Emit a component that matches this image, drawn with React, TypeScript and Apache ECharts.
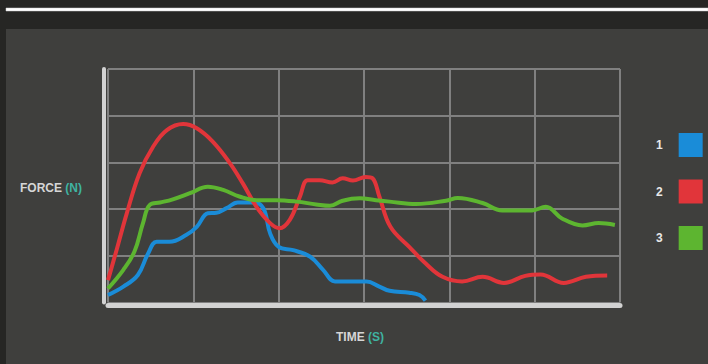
import React, { useEffect, useRef } from "react";
import * as echarts from "echarts";

const seriesNames = ["1", "2", "3"];
const seriesColors = ["#1a8cd8", "#e1353a", "#5db530"];

const blueTime = [0, 0.18, 0.35, 0.47, 0.57, 0.72, 0.92, 1.04, 1.17, 1.27, 1.39, 1.52, 1.7, 1.82, 1.9, 2.0, 2.17, 2.37, 2.52, 2.66, 2.84, 3.03, 3.18, 3.3, 3.53, 3.65, 3.72];
const blueForce = [0.16, 0.34, 0.59, 1.05, 1.3, 1.3, 1.45, 1.62, 1.91, 1.92, 2.02, 2.14, 2.14, 2.02, 1.48, 1.19, 1.12, 0.98, 0.7, 0.45, 0.45, 0.45, 0.34, 0.25, 0.21, 0.16, 0.04];

const redTime = [0, 0.1, 0.22, 0.37, 0.53, 0.69, 0.88, 1.04, 1.23, 1.43, 1.58, 1.74, 1.9, 2.01, 2.13, 2.25, 2.34, 2.48, 2.63, 2.75, 2.87, 3.02, 3.1, 3.18, 3.31, 3.53, 3.72, 3.92, 4.15, 4.39, 4.64, 4.89, 5.07, 5.34, 5.6, 5.85];
const redForce = [0.48, 1.12, 1.91, 2.77, 3.34, 3.69, 3.82, 3.73, 3.44, 2.98, 2.55, 2.05, 1.7, 1.59, 1.77, 2.27, 2.62, 2.62, 2.57, 2.66, 2.61, 2.69, 2.66, 2.27, 1.62, 1.19, 0.84, 0.55, 0.45, 0.55, 0.42, 0.57, 0.6, 0.42, 0.55, 0.58];

const greenTime = [0, 0.18, 0.31, 0.41, 0.49, 0.61, 0.76, 0.96, 1.17, 1.35, 1.54, 1.74, 1.97, 2.21, 2.44, 2.6, 2.75, 2.95, 3.14, 3.3, 3.61, 3.96, 4.1, 4.39, 4.62, 4.97, 5.13, 5.32, 5.56, 5.75, 5.94];
const greenForce = [0.3, 0.7, 1.09, 1.7, 2.09, 2.14, 2.21, 2.34, 2.48, 2.41, 2.27, 2.19, 2.19, 2.16, 2.1, 2.07, 2.18, 2.23, 2.19, 2.16, 2.11, 2.18, 2.24, 2.13, 1.97, 1.97, 2.05, 1.8, 1.65, 1.7, 1.66];

const seriesTimes = [blueTime, redTime, greenTime];
const seriesForces = [blueForce, redForce, greenForce];

export default function App() {
  const ref = useRef<HTMLDivElement>(null);
  useEffect(() => {
    document.body.style.margin = "0";
    const chart = echarts.init(ref.current!, null, { renderer: "svg" });
    const font = "'Liberation Sans', Arial, sans-serif";
    const labelRich = {
      a: { fill: "#d6d6d6", fontSize: 12, fontWeight: "bold", fontFamily: font },
      b: { fill: "#3fb3a1", fontSize: 12, fontWeight: "bold", fontFamily: font },
    };
    chart.setOption({
      animation: false,
      backgroundColor: "#262624",
      graphic: [
        { type: "rect", shape: { x: 6, y: 8, width: 702, height: 3 }, style: { fill: "#ffffff", stroke: "#cfcfcf", lineWidth: 0.5 }, z: 0 },
        { type: "rect", shape: { x: 6, y: 29, width: 702, height: 335 }, style: { fill: "#3f3f3d" }, z: -1 },
        { type: "text", left: 20, top: 182, style: { text: "{a|FORCE }{b|(N)}", rich: labelRich } },
        { type: "text", left: 336, top: 331, style: { text: "{a|TIME }{b|(S)}", rich: labelRich } },
      ],
      legend: {
        orient: "vertical",
        left: 656,
        top: 133,
        padding: 0,
        itemWidth: 24,
        itemHeight: 24,
        itemGap: 22.5,
        align: "right",
        icon: "rect",
        data: seriesNames,
        textStyle: {
          color: "#e8e8e8",
          fontSize: 12,
          fontWeight: "bold",
          fontFamily: font,
          padding: [0, 11, 0, 0],
        },
      },
      grid: { left: 108, right: 88, top: 69, bottom: 61.5, containLabel: false },
      xAxis: {
        type: "value",
        min: 0,
        max: 6,
        interval: 1,
        axisLabel: { show: false },
        axisTick: { show: false },
        axisLine: { show: true, onZero: false, lineStyle: { color: "#d2d2d2", width: 5 } },
        offset: 3,
        splitLine: { show: true, lineStyle: { color: "#808080", width: 2 } },
      },
      yAxis: {
        type: "value",
        min: 0,
        max: 5,
        interval: 1,
        axisLabel: { show: false },
        axisTick: { show: false },
        axisLine: { show: true, onZero: false, lineStyle: { color: "#d2d2d2", width: 4 } },
        offset: 4,
        splitLine: { show: true, lineStyle: { color: "#808080", width: 2 } },
      },
      series: seriesNames.map((name, i) => ({
        name,
        type: "line",
        smooth: 0.4,
        showSymbol: false,
        symbol: "none",
        color: seriesColors[i],
        lineStyle: { width: 4, color: seriesColors[i] },
        data: seriesTimes[i].map((t, k) => [t, seriesForces[i][k]]),
      })),
    });
    return () => chart.dispose();
  }, []);
  return <div ref={ref} style={{ position: "fixed", left: 0, top: 0, width: 708, height: 364 }} />;
}
